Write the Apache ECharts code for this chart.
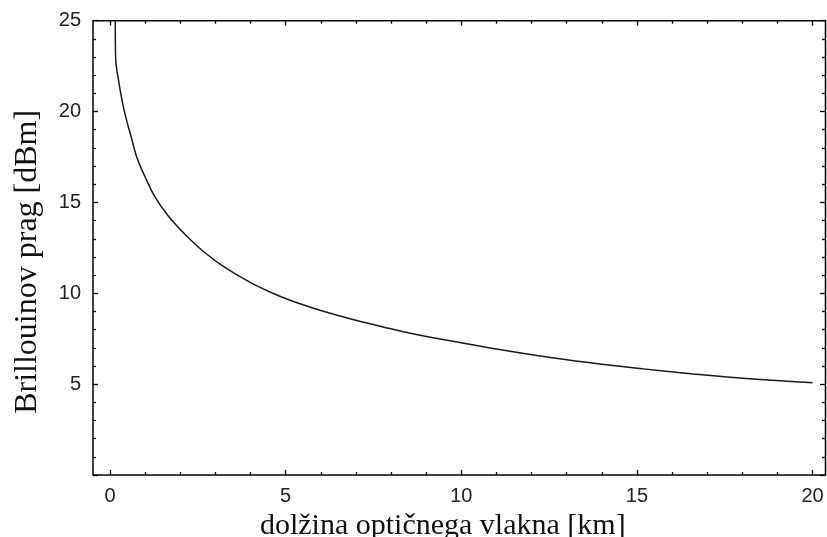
<!DOCTYPE html>
<html>
<head>
<meta charset="utf-8">
<script src="https://cdn.jsdelivr.net/npm/echarts@6/dist/echarts.min.js"></script>
<style>
html,body{margin:0;padding:0;background:#fff;}
#chart{width:827px;height:537px;}
</style>
</head>
<body>
<div id="chart"></div>
<script>
// Fiber length [km]
var lengthKm = [0.15, 0.16, 0.236, 0.35, 0.455, 0.618, 0.76, 1.0, 1.28, 1.66, 2.18, 2.66, 3.27, 3.99, 4.70, 5.41, 6.12, 6.83, 7.54, 8.26, 8.97, 9.77, 10.91, 12.15, 13.57, 15.18, 16.6, 17.84, 19.26, 20.0];
// Brillouin threshold [dBm]
var thresholdDbm = [25.0, 22.95, 21.8, 20.55, 19.65, 18.5, 17.5, 16.4, 15.3, 14.25, 13.15, 12.3, 11.42, 10.6, 9.95, 9.42, 8.98, 8.6, 8.26, 7.93, 7.64, 7.36, 6.96, 6.58, 6.2, 5.84, 5.56, 5.35, 5.16, 5.08];
var xTickLabels = [0, 5, 10, 15, 20];
var yTickLabels = [5, 10, 15, 20, 25];
var xTitle = 'dolžina optičnega vlakna [km]';
var yTitle = 'Brillouinov prag [dBm]';

var points = lengthKm.map(function (x, i) { return [x, thresholdDbm[i]]; });

var labelFont = { fontFamily: 'Liberation Sans', fontSize: 20, color: '#222' };
var titleFont = { fontFamily: 'Liberation Serif', fontSize: 31, color: '#111' };

function tickAxis(extra) {
  var base = {
    type: 'value',
    gridIndex: 1,
    axisLine: { show: false, onZero: false },
    axisTick: { show: true, inside: true, length: 5, lineStyle: { color: '#000', width: 1.3 } },
    minorTick: { show: true, splitNumber: 5, length: 3, lineStyle: { color: '#000', width: 1.3 } },
    splitLine: { show: false },
    minorSplitLine: { show: false },
    axisLabel: { show: false }
  };
  for (var k in extra) base[k] = extra[k];
  return base;
}

var chart = echarts.init(document.getElementById('chart'), null, { renderer: 'canvas' });
chart.setOption({
  animation: false,
  backgroundColor: '#fff',
  grid: [
    { left: 93, right: 1.5, top: 20.7, bottom: 62, show: true, borderColor: '#000', borderWidth: 1.5, backgroundColor: 'transparent', containLabel: false, outerBoundsMode: 'none' },
    { left: 110, right: 14.4, top: 20.7, bottom: 62, show: false, containLabel: false, outerBoundsMode: 'none' }
  ],
  xAxis: [
    { type: 'value', gridIndex: 0, min: -0.5, max: 20.35, show: false },
    tickAxis({
      position: 'bottom', min: 0, max: 20, interval: 5,
      axisLabel: Object.assign({ show: true, margin: 11, formatter: function (v) { return xTickLabels.indexOf(v) >= 0 ? String(v) : ''; } }, labelFont),
      name: xTitle, nameLocation: 'middle', nameGap: 33,
      nameTextStyle: Object.assign({}, titleFont, { fontSize: 30, padding: [0, 37, 0, 0] })
    }),
    tickAxis({ position: 'top', min: 0, max: 20, interval: 5 })
  ],
  yAxis: [
    { type: 'value', gridIndex: 0, min: 0, max: 25, show: false },
    tickAxis({
      position: 'left', offset: 17, min: 0, max: 25, interval: 5,
      axisLabel: Object.assign({ show: true, margin: 12, formatter: function (v) { return yTickLabels.indexOf(v) >= 0 ? String(v) : ''; } }, labelFont),
      name: yTitle, nameLocation: 'middle', nameGap: 49,
      nameTextStyle: Object.assign({}, titleFont, { fontSize: 32, padding: [0, 28, 0, 0] })
    }),
    tickAxis({ position: 'right', offset: 12.4, min: 0, max: 25, interval: 5 })
  ],
  series: [{
    type: 'line',
    xAxisIndex: 1,
    yAxisIndex: 1,
    data: points,
    showSymbol: false,
    smooth: 0.4,
    lineStyle: { color: '#1a1a1a', width: 1.5 },
    clip: true
  }]
});
</script>
</body>
</html>
